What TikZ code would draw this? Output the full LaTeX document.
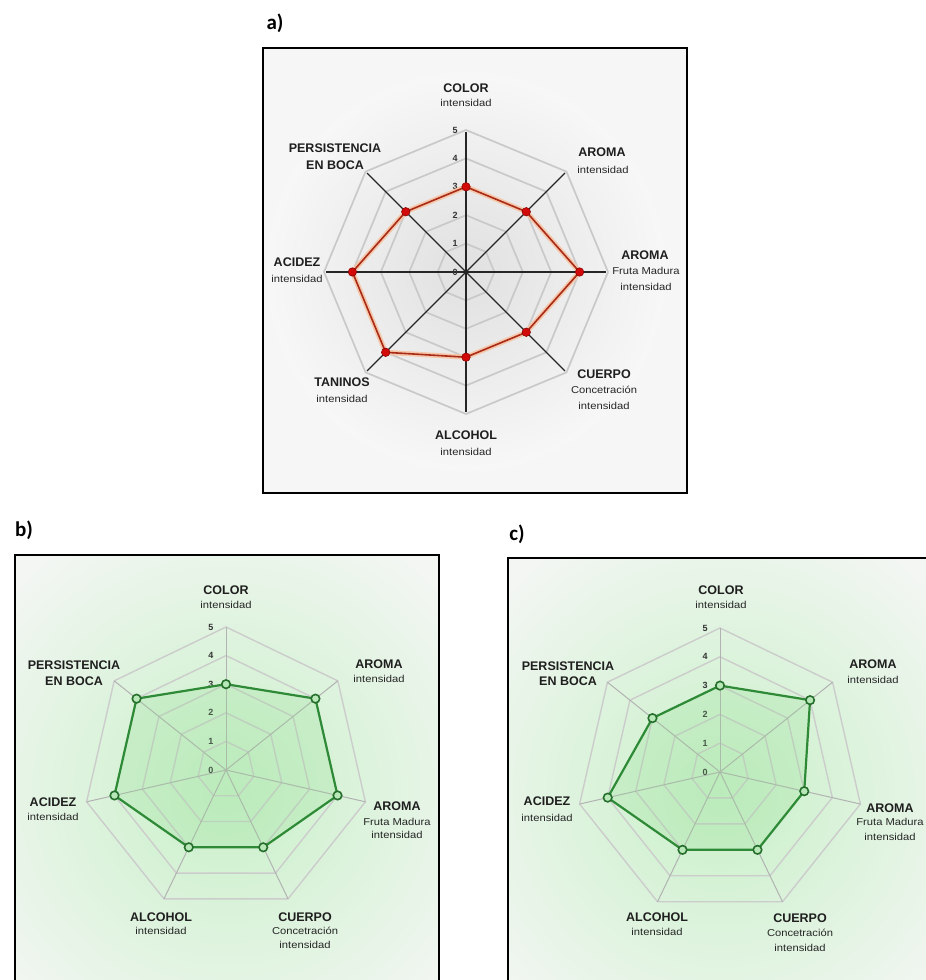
\documentclass[tikz,border=0pt]{standalone}
\usepackage{fontspec}
\setmainfont{Liberation Sans}
\newfontfamily\subfont[FakeStretch=1.12]{Liberation Sans}
\newfontfamily\panelfont{Carlito}
\definecolor{gin}{HTML}{C8F0C8}
\definecolor{gbg}{HTML}{F4F6F4}
\definecolor{gfill}{HTML}{8EDC8E}
\definecolor{gline}{HTML}{2E8A36}
\definecolor{gmark}{HTML}{B8E8B8}
\definecolor{rline}{HTML}{A82A18}
\definecolor{rmark}{HTML}{D20A0A}
\definecolor{rglow}{HTML}{F6C6A8}
\tikzset{
  ttl/.style={font=\bfseries\fontsize{12.5}{14}\selectfont, inner sep=0, text=black!88},
  sub/.style={font=\subfont\fontsize{10}{11}\selectfont, inner sep=0, text=black!85},
  num/.style={font=\bfseries\fontsize{9}{10}\selectfont, inner sep=0, text=black!80},
  panel/.style={font=\panelfont\bfseries\fontsize{21}{24}\selectfont, inner sep=0},
  frame/.style={draw=black, line width=1.4},
  ringA/.style={draw=gray!42, line width=1.7, line join=round},
  axisA/.style={draw=black!85, line width=1.2},
  glowA/.style={draw=rglow, line width=5, line join=round},
  dataA/.style={draw=rline, line width=1.6, line join=round},
  markA/.style={circle, fill=rmark, draw=red!50!black, line width=0.5, inner sep=0, minimum size=8.5},
  ringG/.style={draw=gray!40, line width=1.4, line join=round},
  axisG/.style={draw=gray!60, line width=1},
  fillG/.style={fill=gfill, fill opacity=0.22},
  dataG/.style={draw=gline, line width=2.2, line join=round},
  markG/.style={circle, fill=gmark, draw=gline!80!black, line width=1.6, inner sep=0, minimum size=8.5}
}
\newcommand\labT[4]{\node[ttl] (#1) at (#2,#3) {#4};}
\newcommand\labS[4]{\node[sub] (#1) at (#2,#3) {#4};}
\begin{document}
\begin{tikzpicture}[x=1pt,y=1pt]
\useasboundingbox (0,0) rectangle (926,980);
\clip (0,0) rectangle (926,980);
\fill[white] (0,0) rectangle (926,980);

% ================= panel a =================
\node[panel] (pa) at (275,957) {a)};
\fill[gray!7] (263,487) rectangle (687,932);
\begin{scope}
  \clip (263,487) rectangle (687,932);
  \shade[inner color=gray!24, outer color=gray!6] (466,708) circle (200);
\end{scope}
\begin{scope}[shift={(466,708)}]
  \coordinate (ac) at (0,0);
  \foreach \k in {1,...,5}
    \draw[ringA] (90:\k*28.4) \foreach \i in {1,...,7}{ -- (90-\i*45:\k*28.4)} -- cycle;
  \foreach \i in {0,...,7} \coordinate (ae\i) at (90-\i*45:140);
  \foreach \i in {0,...,7} \draw[axisA] (ac) -- (ae\i);
  \foreach \k in {0,...,5} \node[num] (an\k) at (-11,\k*28.4) {\k};
  \foreach \v [count=\i from 0] in {3,3,4,3,3,4,4,3}
    \coordinate (ap\i) at (90-\i*45:\v*28.4);
  \draw[glowA] (ap0)--(ap1)--(ap2)--(ap3)--(ap4)--(ap5)--(ap6)--(ap7)--cycle;
  \draw[dataA] (ap0)--(ap1)--(ap2)--(ap3)--(ap4)--(ap5)--(ap6)--(ap7)--cycle;
  \foreach \i in {0,...,7} \node[markA] (am\i) at (ap\i) {};
\end{scope}
\draw[frame] (263,487) rectangle (687,932);
\labT{aCOLt}{466}{892}{COLOR}
\labS{aCOLs}{466}{877}{intensidad}
\labT{aAROt}{602}{828}{AROMA}
\labS{aAROs}{603}{810}{intensidad}
\labT{aFMt}{645}{725}{AROMA}
\labS{aFMs}{646}{709}{Fruta Madura}
\labS{aFMs2}{646}{693}{intensidad}
\labT{aCUEt}{604}{606}{CUERPO}
\labS{aCUEs}{604}{590}{Concetración}
\labS{aCUEs2}{604}{574}{intensidad}
\labT{aALCt}{466}{545}{ALCOHOL}
\labS{aALCs}{466}{528}{intensidad}
\labT{aTANt}{342}{598}{TANINOS}
\labS{aTANs}{342}{581}{intensidad}
\labT{aACIt}{297}{718}{ACIDEZ}
\labS{aACIs}{297}{701}{intensidad}
\labT{aPERt}{335}{832}{PERSISTENCIA}
\labT{aPERt2}{335}{815}{EN BOCA}

% ================= panel b =================
\node[panel] (pb) at (24,450) {b)};
\fill[gbg] (15,-10) rectangle (439,425);
\begin{scope}
  \clip (15,-10) rectangle (439,425);
  \shade[inner color=gin, outer color=gbg] (226,190) circle (300);
\end{scope}
\begin{scope}[shift={(226,210)}]
  \coordinate (bc) at (0,0);
  \foreach \k in {1,...,5}
    \draw[ringG] (90:\k*28.6) \foreach \i in {1,...,6}{ -- (90-\i*51.4286:\k*28.6)} -- cycle;
  \foreach \i in {0,...,6} \coordinate (be\i) at (90-\i*51.4286:143);
  \foreach \i in {0,...,6} \draw[axisG] (bc) -- (be\i);
  \foreach \k in {0,...,5} \node[num] (bn\k) at (-15,\k*28.6) {\k};
  \foreach \v [count=\i from 0] in {3,4,4,3,3,4,4}
    \coordinate (bp\i) at (90-\i*51.4286:\v*28.6);
  \fill[fillG] (bp0)--(bp1)--(bp2)--(bp3)--(bp4)--(bp5)--(bp6)--cycle;
  \draw[dataG] (bp0)--(bp1)--(bp2)--(bp3)--(bp4)--(bp5)--(bp6)--cycle;
  \foreach \i in {0,...,6} \node[markG] (bm\i) at (bp\i) {};
\end{scope}
\draw[frame] (15,-10) rectangle (439,425);
\labT{bCOLt}{226}{390}{COLOR}
\labS{bCOLs}{226}{375}{intensidad}
\labT{bAROt}{379}{316}{AROMA}
\labS{bAROs}{379}{301}{intensidad}
\labT{bPERt}{74}{315}{PERSISTENCIA}
\labT{bPERt2}{74}{299}{EN BOCA}
\labT{bACIt}{53}{178}{ACIDEZ}
\labS{bACIs}{53}{163}{intensidad}
\labT{bFMt}{397}{174}{AROMA}
\labS{bFMs}{397}{158}{Fruta Madura}
\labS{bFMs2}{397}{145}{intensidad}
\labT{bALCt}{161}{63}{ALCOHOL}
\labS{bALCs}{161}{49}{intensidad}
\labT{bCUEt}{305}{63}{CUERPO}
\labS{bCUEs}{305}{49}{Concetración}
\labS{bCUEs2}{305}{35}{intensidad}

% ================= panel c =================
\node[panel] (pc) at (517,446) {c)};
\fill[gbg] (508,-10) rectangle (940,422);
\begin{scope}
  \clip (508,-10) rectangle (940,422);
  \shade[inner color=gin, outer color=gbg] (720,188) circle (300);
\end{scope}
\begin{scope}[shift={(720,208)}]
  \coordinate (cc) at (0,0);
  \foreach \k in {1,...,5}
    \draw[ringG] (90:\k*28.8) \foreach \i in {1,...,6}{ -- (90-\i*51.4286:\k*28.8)} -- cycle;
  \foreach \i in {0,...,6} \coordinate (ce\i) at (90-\i*51.4286:144);
  \foreach \i in {0,...,6} \draw[axisG] (cc) -- (ce\i);
  \foreach \k in {0,...,5} \node[num] (cn\k) at (-15,\k*28.8) {\k};
  \foreach \v [count=\i from 0] in {3,4,3,3,3,4,3}
    \coordinate (cp\i) at (90-\i*51.4286:\v*28.8);
  \fill[fillG] (cp0)--(cp1)--(cp2)--(cp3)--(cp4)--(cp5)--(cp6)--cycle;
  \draw[dataG] (cp0)--(cp1)--(cp2)--(cp3)--(cp4)--(cp5)--(cp6)--cycle;
  \foreach \i in {0,...,6} \node[markG] (cm\i) at (cp\i) {};
\end{scope}
\draw[frame] (508,-10) rectangle (940,422);
\labT{cCOLt}{721}{390}{COLOR}
\labS{cCOLs}{721}{375}{intensidad}
\labT{cAROt}{873}{316}{AROMA}
\labS{cAROs}{873}{300}{intensidad}
\labT{cPERt}{568}{314}{PERSISTENCIA}
\labT{cPERt2}{568}{299}{EN BOCA}
\labT{cACIt}{547}{179}{ACIDEZ}
\labS{cACIs}{547}{162}{intensidad}
\labT{cFMt}{890}{172}{AROMA}
\labS{cFMs}{890}{158}{Fruta Madura}
\labS{cFMs2}{890}{143}{intensidad}
\labT{cALCt}{657}{63}{ALCOHOL}
\labS{cALCs}{657}{48}{intensidad}
\labT{cCUEt}{800}{62}{CUERPO}
\labS{cCUEs}{800}{47}{Concetración}
\labS{cCUEs2}{800}{32}{intensidad}
\end{tikzpicture}
\end{document}
